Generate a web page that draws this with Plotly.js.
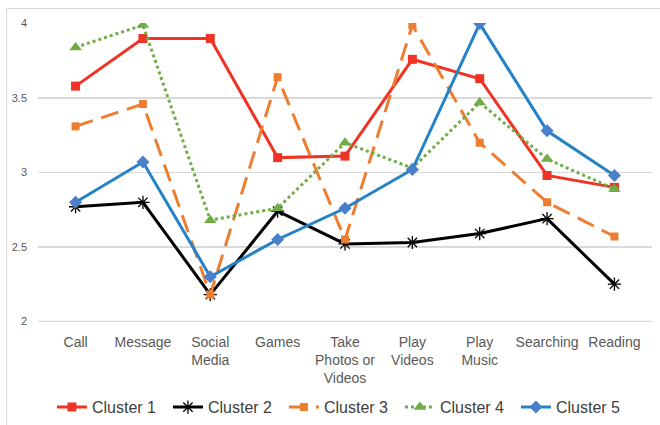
<!DOCTYPE html>
<html><head><meta charset="utf-8">
<script src="https://cdn.plot.ly/plotly-3.0.1.min.js"></script>
<style>
html,body{margin:0;padding:0;background:#fff;}
#frame{position:absolute;left:6px;top:8px;width:700px;height:500px;border-left:1px solid #d9d9d9;border-top:1px solid #d9d9d9;}
#chart{position:absolute;left:0;top:0;width:660px;height:425px;}
</style></head>
<body>
<div id="frame"></div>
<div id="chart"></div>
<script>
const categories = ["Call","Message","Social<br>Media","Games","Take<br>Photos or<br>Videos","Play<br>Videos","Play<br>Music","Searching","Reading"];
const cluster1 = [3.58,3.90,3.90,3.10,3.11,3.76,3.63,2.98,2.90];
const cluster2 = [2.77,2.80,2.18,2.74,2.52,2.53,2.59,2.69,2.25];
const cluster3 = [3.31,3.46,2.18,3.64,2.55,3.99,3.20,2.80,2.57];
const cluster4 = [3.84,3.99,2.68,2.76,3.20,3.03,3.47,3.09,2.89];
const cluster5 = [2.80,3.07,2.30,2.55,2.76,3.02,4.00,3.28,2.98];
const seriesNames = ["Cluster 1","Cluster 2","Cluster 3","Cluster 4","Cluster 5"];
const yTicks = [2,2.5,3,3.5,4];

const traces = [
  {y:cluster1, name:seriesNames[0], line:{color:'#ef3325',width:3}, marker:{symbol:'square',size:9,color:'#ef3325'}},
  {y:cluster2, name:seriesNames[1], line:{color:'#000000',width:3}, marker:{symbol:'asterisk-open',size:11,color:'#000000',line:{width:1.3,color:'#000'}}},
  {y:cluster3, name:seriesNames[2], line:{color:'#ed7d31',width:3,dash:'18px,9px'}, marker:{symbol:'square',size:8,color:'#ed7d31'}},
  {y:cluster4, name:seriesNames[3], line:{color:'#70ad47',width:3,dash:'dot'}, marker:{symbol:'triangle-up',size:11,color:'#70ad47'}},
  {y:cluster5, name:seriesNames[4], line:{color:'#2383c6',width:3}, marker:{symbol:'diamond',size:10,color:'#4a7fc9'}}
].map(t => Object.assign({x:categories, type:'scatter', mode:'lines+markers'}, t));

const layout = {
  width:660, height:425,
  margin:{l:38,r:8,t:23,b:103, autoexpand:false},
  paper_bgcolor:'rgba(0,0,0,0)', plot_bgcolor:'rgba(0,0,0,0)',
  font:{family:'Liberation Sans, Arial, sans-serif', color:'#595959'},
  showlegend:true,
  legend:{orientation:'h', x:0.495, xanchor:'center', y:-0.285, yanchor:'middle', font:{size:16,color:'#404040'}, itemwidth:30, entrywidth:71, entrywidthmode:'pixels', traceorder:'normal'},
  xaxis:{type:'category', tickfont:{size:14,color:'#595959'}, showgrid:false, showline:false, ticks:'', zeroline:false, fixedrange:true, ticklabelstandoff:10},
  yaxis:{range:[1.996,4.004], tickvals:yTicks, ticktext:yTicks.map(String), tickfont:{size:11,color:'#595959'}, showgrid:true, gridcolor:'#d9d9d9', gridwidth:1.3, zeroline:false, showline:false, ticks:'', ticklabelstandoff:10},
  shapes:[{type:'line', xref:'paper', x0:0, x1:1, yref:'y', y0:yTicks[0], y1:yTicks[0], line:{color:'#d9d9d9', width:1.3}, layer:'below'}]
};
Plotly.newPlot('chart', traces, layout, {staticPlot:true});
</script>
</body></html>
